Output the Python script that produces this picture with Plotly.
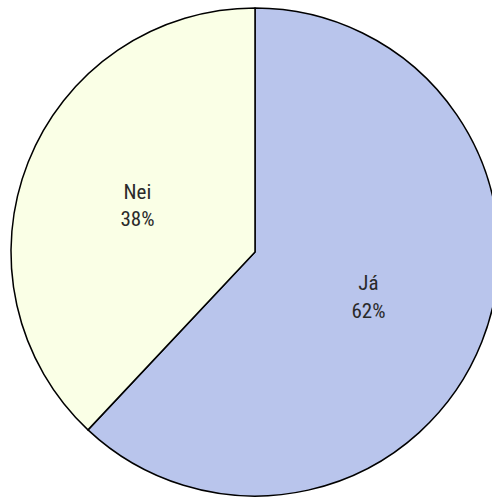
import plotly.graph_objects as go

labels = ["Já", "Nei"]
values = [62, 38]
colors = ["#B9C5EC", "#FAFFE6"]

fig = go.Figure(go.Pie(
    labels=labels,
    values=values,
    sort=False,
    direction="clockwise",
    rotation=0,
    marker=dict(colors=colors, line=dict(color="black", width=1.5)),
    textinfo="label+percent",
    textposition="inside",
    insidetextorientation="horizontal",
    texttemplate="%{label}<br>%{percent:.0%}",
    textfont=dict(family="Roboto Condensed, Liberation Sans, sans-serif", size=21, color="#2a2a2a"),
    showlegend=False,
    hoverinfo="skip",
))

fig.update_layout(
    width=512,
    height=498,
    margin=dict(l=11, r=13, t=8, b=2),
    paper_bgcolor="white",
    plot_bgcolor="white",
)

fig.write_html(
    "out.html",
    config={"displayModeBar": False},
    post_script="document.documentElement.style.overflow='hidden';document.body.style.overflow='hidden';document.body.style.margin='0';",
)
